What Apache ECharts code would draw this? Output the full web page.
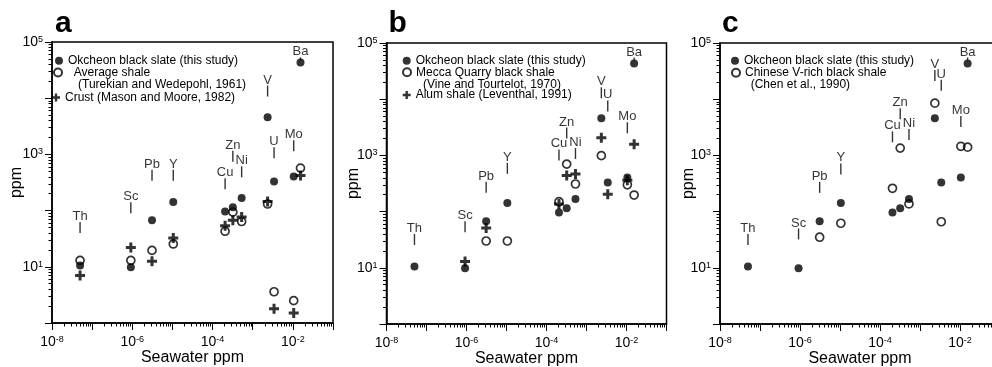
<!DOCTYPE html>
<html>
<head>
<meta charset="utf-8">
<script src="https://cdn.jsdelivr.net/npm/echarts@6/dist/echarts.min.js"></script>
<style>html,body{margin:0;padding:0;background:#fff}#chart{width:992px;height:367px}</style>
</head>
<body>
<div id="chart"></div>
<script>
// element order along the seawater axis
const elements = ['Th', 'Sc', 'Pb', 'Y', 'Cu', 'Zn', 'Ni', 'V', 'U', 'Mo', 'Ba'];
const seawater = [5e-8, 9.2e-7, 3.1e-6, 1.05e-5, 2.05e-4, 3.2e-4, 5.3e-4, 2.35e-3, 3.4e-3, 1.05e-2, 1.55e-2];

// ppm in rocks
const okcheon = [10.5, 9.8, 67, 142, 96, 115, 168, 4600, 328, 405, 43000];
const averageShale = [13, 13, 19.6, 25.5, 43, 94, 64, 131, 3.6, 2.5, 571];
const crust = [7, 22, 12.6, 32.6, 54, 67, 77, 145, 1.8, 1.5, 420];
const meccaShale = [null, null, 30, 30, 150, 700, 310, 990, null, 300, 197];
const alumShale = [null, 13, 51, null, 136, 437, 467, 2070, 204, 360, 1580];
const chineseShale = [null, null, 35, 62, 260, 1350, 137, 8500, 66, 1450, 1400];

// height (ppm) where each element name sits in each panel
const labelLevelA = [50, 112, 425, 425, 300, 930, 490, 13400, 1070, 1420, 50000];
const labelLevelB = [32, 54, 270, 590, 1020, 2500, 1080, 13000, 7600, 3100, 52000];
const labelLevelC = [32, 40, 270, 575, 2140, 5500, 2350, 26500, 17800, 4000, 52000];

// axis ticks
const xDecades = [1e-8, 1e-7, 1e-6, 1e-5, 1e-4, 1e-3, 1e-2, 1e-1];
const yDecades = [1, 1e1, 1e2, 1e3, 1e4, 1e5];
const xTickLabels = [1e-8, 1e-6, 1e-4, 1e-2];
const yTickLabels = [1e1, 1e3, 1e5];

const FONT = '"Liberation Sans", Arial, Helvetica, sans-serif';
const OKCHEON = 'Okcheon black slate (this study)';
const CROSS = 'path://M3.5,0H6.5V3.5H10V6.5H6.5V10H3.5V6.5H0V3.5H3.5Z';

function minorTicks(decades) {
    const out = [];
    for (let i = 0; i < decades.length - 1; i++) {
        for (let k = 2; k <= 9; k++) out.push(k * decades[i]);
    }
    return out;
}
const xMinor = minorTicks(xDecades);
const yMinor = minorTicks(yDecades);

function pairs(vals) {
    const out = [];
    vals.forEach((v, i) => { if (v != null) out.push([seawater[i], v]); });
    return out;
}

const supRich = {
    b: { fontSize: 14, fontFamily: FONT, color: '#000' },
    e: { fontSize: 9, fontFamily: FONT, color: '#000', verticalAlign: 'top' }
};
const supFormatter = v => '{b|10}{e|' + Math.round(Math.log10(v)) + '}';

const panels = [
    {
        letter: 'a', left: 52, top: 42, width: 281, yNameGap: 27,
        open: averageShale, openName: 'Average shale', openPad: '  ',
        cross: crust, crossName: 'Crust (Mason and Moore, 1982)',
        citation: '(Turekian and Wedepohl, 1961)',
        labels: labelLevelA,
        rows: [[59, 60.7], [57, 72.5], [78, 85], [56, 97.5]]
    },
    {
        letter: 'b', left: 386.5, top: 43, width: 280, yNameGap: 25,
        open: meccaShale, openName: 'Mecca Quarry black shale', openPad: '',
        cross: alumShale, crossName: 'Alum shale (Leventhal, 1991)',
        citation: '(Vine and Tourtelot, 1970)',
        labels: labelLevelB,
        rows: [[406.7, 60.7], [406, 72.3], [423, 84.5], [406.7, 95]]
    },
    {
        letter: 'c', left: 720, top: 43, width: 280, yNameGap: 23,
        open: chineseShale, openName: 'Chinese V-rich black shale', openPad: '',
        cross: null,
        citation: '(Chen et al., 1990)',
        labels: labelLevelC,
        rows: [[735, 60.7], [735, 72.7], [750.7, 85]]
    }
];

const grid = [], xAxis = [], yAxis = [], series = [], legend = [], graphic = [];

panels.forEach((p, i) => {
    grid.push({
        left: p.left, top: p.top, width: p.width, height: 281,
        show: true, borderColor: '#000', borderWidth: 1.5, backgroundColor: 'transparent',
        containLabel: false, outerBoundsMode: 'none'
    });
    // major axis with labels
    xAxis.push({
        type: 'log', logBase: 10, gridIndex: i, position: 'bottom', min: 1e-8, max: 1e-1,
        axisLine: { show: true, onZero: false, lineStyle: { color: '#000', width: 1.5 } },
        axisTick: { show: true, customValues: xDecades, length: 7, lineStyle: { color: '#000', width: 1 } },
        axisLabel: { customValues: xTickLabels, margin: 12, formatter: supFormatter, rich: supRich },
        splitLine: { show: false },
        name: 'Seawater ppm', nameLocation: 'middle', nameGap: 27, nameMoveOverlap: false,
        nameTextStyle: { fontSize: 16, color: '#000', fontFamily: FONT }
    });
    // minor ticks only
    xAxis.push({
        type: 'log', logBase: 10, gridIndex: i, position: 'bottom', min: 1e-8, max: 1e-1,
        axisLine: { show: false },
        axisTick: { show: true, customValues: xMinor, length: 3.5, lineStyle: { color: '#000', width: 1 } },
        axisLabel: { show: false },
        splitLine: { show: false }
    });
    yAxis.push({
        type: 'log', logBase: 10, gridIndex: i, position: 'left', min: 1, max: 1e5,
        axisLine: { show: true, onZero: false, lineStyle: { color: '#000', width: 1.5 } },
        axisTick: { show: true, customValues: yDecades, length: 7, lineStyle: { color: '#000', width: 1 } },
        axisLabel: { customValues: yTickLabels, margin: 9, formatter: supFormatter, rich: supRich },
        splitLine: { show: false },
        name: 'ppm', nameLocation: 'middle', nameGap: p.yNameGap, nameMoveOverlap: false,
        nameTextStyle: { fontSize: 16, color: '#000', fontFamily: FONT }
    });
    yAxis.push({
        type: 'log', logBase: 10, gridIndex: i, position: 'left', min: 1, max: 1e5,
        axisLine: { show: false },
        axisTick: { show: true, customValues: yMinor, length: 3.5, lineStyle: { color: '#000', width: 1 } },
        axisLabel: { show: false },
        splitLine: { show: false }
    });

    const ax = { xAxisIndex: i * 2, yAxisIndex: i * 2 };

    // element names with their short marker bars
    series.push(Object.assign({
        name: 'labels-' + p.letter, type: 'scatter', silent: true, z: 1,
        symbol: 'rect',
        symbolSize: (val, params) => params.name === 'Ba' ? [1.4, 3] : [1.4, 11],
        itemStyle: { color: '#000' },
        label: {
            show: true, position: 'top', distance: -1, formatter: q => q.name,
            fontSize: 13, color: '#000', fontFamily: FONT
        },
        data: elements.map((el, k) => ({ name: el, value: [seawater[k], p.labels[k]] }))
    }, ax));

    series.push(Object.assign({
        name: OKCHEON, type: 'scatter', symbol: 'circle', symbolSize: 8, z: 3,
        itemStyle: { color: '#000' },
        data: pairs(okcheon)
    }, ax));
    series.push(Object.assign({
        name: p.openName, type: 'scatter', symbol: 'circle', symbolSize: 8, z: 4,
        itemStyle: { color: 'rgba(255,255,255,0)', borderColor: '#000', borderWidth: 1.7 },
        data: pairs(p.open)
    }, ax));
    if (p.cross) {
        series.push(Object.assign({
            name: p.crossName, type: 'scatter', symbol: CROSS, symbolSize: 10, z: 5,
            itemStyle: { color: '#000' },
            data: pairs(p.cross)
        }, ax));
    }

    const legendBase = {
        orient: 'vertical', itemWidth: 8, itemHeight: 8, padding: 0, selectedMode: false,
        textStyle: { fontSize: 12, lineHeight: 12, color: '#000', fontFamily: FONT }
    };
    legend.push(Object.assign({}, legendBase, {
        left: p.rows[0][0] - 4, top: p.rows[0][1] - 6, data: [OKCHEON]
    }));
    legend.push(Object.assign({}, legendBase, {
        left: p.rows[1][0] - 4, top: p.rows[1][1] - 6, data: [p.openName],
        formatter: n => p.openPad + n
    }));
    graphic.push({
        type: 'text', left: p.rows[2][0], top: p.rows[2][1] - 6,
        style: { text: p.citation, font: '12px ' + FONT, fill: '#000' }
    });
    if (p.cross) {
        legend.push(Object.assign({}, legendBase, {
            left: p.rows[3][0] - 4, top: p.rows[3][1] - 6, data: [p.crossName]
        }));
    }
    graphic.push({
        type: 'text', left: p.left + (i === 0 ? 3 : 2), top: 9,
        style: { text: p.letter, font: 'bold 30px ' + FONT, fill: '#000' }
    });
});

const chart = echarts.init(document.getElementById('chart'), null, { renderer: 'canvas' });
chart.setOption({
    animation: false,
    backgroundColor: '#fff',
    textStyle: { fontFamily: FONT },
    grid: grid,
    xAxis: xAxis,
    yAxis: yAxis,
    legend: legend,
    graphic: graphic,
    series: series
});
</script>
</body>
</html>
